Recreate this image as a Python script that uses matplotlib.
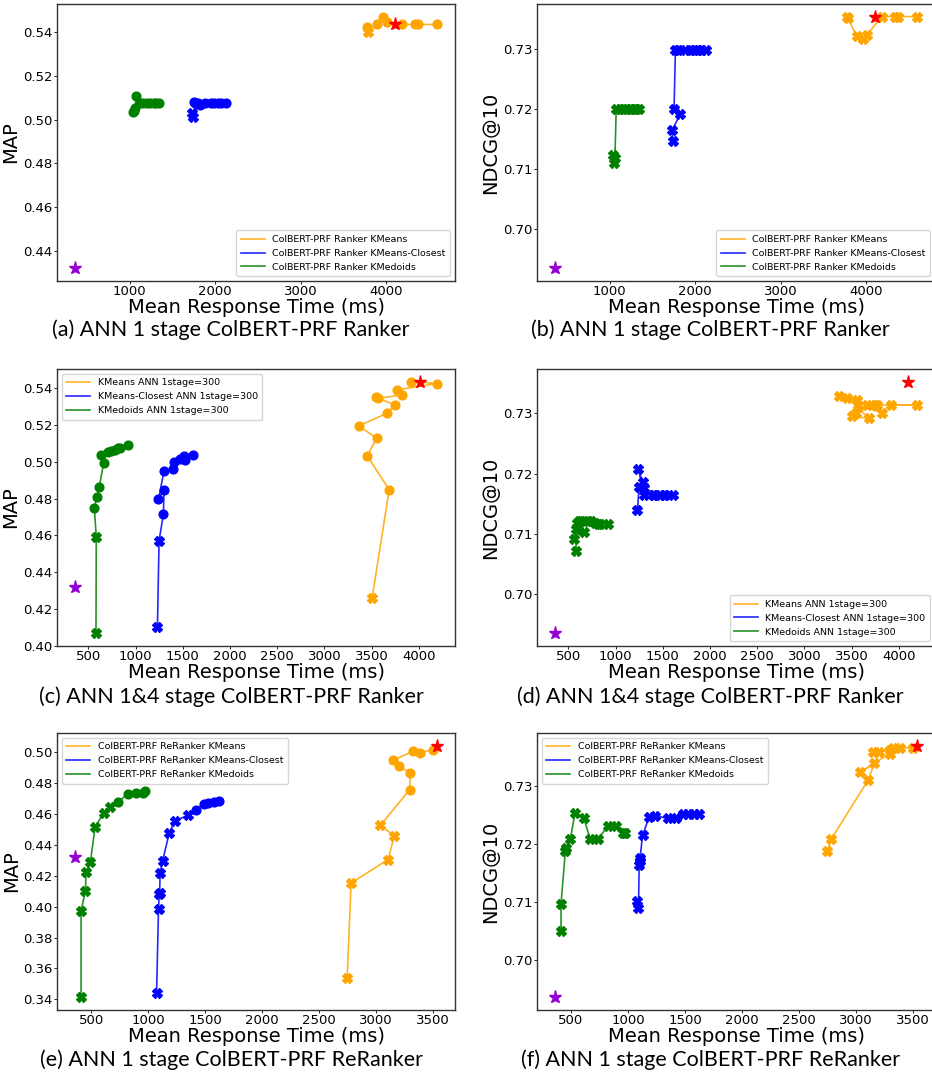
import matplotlib
matplotlib.use('Agg')
import matplotlib.pyplot as plt
from matplotlib.ticker import MultipleLocator

# ---------------- data ----------------
# baselines: purple = no PRF, red = exact ColBERT-PRF
base_rt = 360
base_map = 0.432
base_ndcg = 0.6935
prf_rt = [4100, 4100, 4018, 4100, 3536, 3536]
prf_val = [0.5435, 0.7353, 0.5436, 0.7353, 0.5043, 0.7370]

# row 1: ANN 1 stage, Ranker
rt1_kmeans = [3774, 3789, 3890, 3960, 4007, 4182, 4337, 4372, 4594]
map1_kmeans = [0.5423, 0.5399, 0.5435, 0.5471, 0.5444, 0.5435, 0.5435, 0.5435, 0.5435]
ndcg1_kmeans = [0.7353, 0.7350, 0.7320, 0.7316, 0.7322, 0.7353, 0.7353, 0.7353, 0.7353]
sigmap1_kmeans = [0, 1, 0, 0, 0, 0, 0, 0, 0]
signdcg1_kmeans = [1, 1, 1, 1, 1, 1, 1, 1, 1]

rt1_closest = [1742, 1730, 1826, 1752, 1768, 1800, 1880, 1950, 1990, 2030, 2070, 2130]
map1_closest = [0.5011, 0.5030, 0.5066, 0.5082, 0.5075, 0.5075, 0.5075, 0.5075, 0.5075, 0.5075, 0.5075, 0.5075]
ndcg1_closest = [0.7147, 0.7164, 0.7192, 0.7199, 0.7297, 0.7297, 0.7297, 0.7297, 0.7297, 0.7297, 0.7297, 0.7297]
sigmap1_closest = [1, 1, 0, 0, 0, 0, 0, 0, 0, 0, 0, 0]
signdcg1_closest = [1] * 12

rt1_medoids = [1040, 1050, 1060, 1075, 1120, 1160, 1200, 1240, 1280, 1310, 1340]
map1_medoids = [0.5035, 0.5040, 0.5055, 0.5110, 0.5078, 0.5078, 0.5078, 0.5078, 0.5078, 0.5078, 0.5078]
ndcg1_medoids = [0.7124, 0.7110, 0.7118, 0.7200, 0.7200, 0.7200, 0.7200, 0.7200, 0.7200, 0.7200, 0.7200]
sigmap1_medoids = [0] * 11
signdcg1_medoids = [1] * 11

# row 2: ANN 1&4 stage, Ranker
rt2_kmeans = [3506, 3686, 3454, 3553, 3366, 3665, 3746, 3545, 3570, 3823, 3770, 4192, 3922]
map2_kmeans = [0.4259, 0.4848, 0.5032, 0.5128, 0.5195, 0.5264, 0.5308, 0.5353, 0.5344, 0.5364, 0.5391, 0.5425, 0.5436]
ndcg2_kmeans = [0.7295, 0.7292, 0.7326, 0.7323, 0.7329, 0.7314, 0.7314, 0.7301, 0.7314, 0.7301, 0.7314, 0.7314, 0.7314]
sigmap2_kmeans = [1, 0, 0, 0, 0, 0, 0, 0, 0, 0, 0, 0, 0]
signdcg2_kmeans = [1] * 13

rt2_closest = [1232, 1249, 1295, 1302, 1243, 1302, 1401, 1408, 1471, 1513, 1520, 1612]
map2_closest = [0.4103, 0.4570, 0.4716, 0.4848, 0.4797, 0.4951, 0.4960, 0.4996, 0.5014, 0.5032, 0.5009, 0.5038]
ndcg2_closest = [0.7139, 0.7178, 0.7187, 0.7177, 0.7208, 0.7164, 0.7164, 0.7164, 0.7164, 0.7164, 0.7164, 0.7164]
sigmap2_closest = [1, 1, 0, 0, 0, 0, 0, 0, 0, 0, 0, 0]
signdcg2_closest = [1] * 12

rt2_medoids = [581, 584, 563, 592, 616, 662, 634, 705, 739, 780, 810, 840, 922]
map2_medoids = [0.4067, 0.4592, 0.4751, 0.4806, 0.4864, 0.4992, 0.5036, 0.5054, 0.5059, 0.5065, 0.5072, 0.5077, 0.5090]
ndcg2_medoids = [0.7071, 0.7108, 0.7091, 0.7119, 0.7122, 0.7104, 0.7121, 0.7122, 0.7122, 0.7118, 0.7117, 0.7117, 0.7117]
sigmap2_medoids = [1, 1, 0, 0, 0, 0, 0, 0, 0, 0, 0, 0, 0]
signdcg2_medoids = [1] * 13

# row 3: ANN 1 stage, ReRanker
rt3_kmeans = [2748, 2783, 3107, 3162, 3040, 3296, 3303, 3200, 3151, 3326, 3390, 3500]
map3_kmeans = [0.3540, 0.4153, 0.4305, 0.4457, 0.4526, 0.4757, 0.4867, 0.4910, 0.4947, 0.5005, 0.4996, 0.5016]
ndcg3_kmeans = [0.7187, 0.7208, 0.7310, 0.7339, 0.7324, 0.7356, 0.7362, 0.7359, 0.7359, 0.7366, 0.7366, 0.7366]
sigmap3_kmeans = [1, 1, 1, 1, 1, 0, 0, 0, 0, 0, 0, 0]
signdcg3_kmeans = [1] * 12

rt3_closest = [1075, 1092, 1098, 1102, 1106, 1128, 1186, 1236, 1347, 1419, 1487, 1523, 1580, 1624]
map3_closest = [0.3443, 0.3982, 0.4080, 0.4090, 0.4221, 0.4296, 0.4477, 0.4554, 0.4591, 0.4623, 0.4667, 0.4670, 0.4677, 0.4683]
ndcg3_closest = [0.7101, 0.7089, 0.7164, 0.7170, 0.7176, 0.7215, 0.7247, 0.7249, 0.7244, 0.7244, 0.7251, 0.7251, 0.7251, 0.7251]
sigmap3_closest = [1, 1, 1, 1, 1, 1, 1, 1, 1, 0, 0, 0, 0, 0]
signdcg3_closest = [1] * 14

rt3_medoids = [412, 412, 450, 456, 494, 535, 611, 669, 739, 821, 894, 953, 976]
map3_medoids = [0.3413, 0.3971, 0.4102, 0.4225, 0.4289, 0.4515, 0.4606, 0.4645, 0.4677, 0.4731, 0.4738, 0.4735, 0.4746]
ndcg3_medoids = [0.7049, 0.7096, 0.7188, 0.7193, 0.7209, 0.7254, 0.7245, 0.7208, 0.7208, 0.7231, 0.7231, 0.7219, 0.7219]
sigmap3_medoids = [1, 1, 1, 1, 1, 1, 1, 1, 0, 0, 0, 0, 0]
signdcg3_medoids = [1] * 13

labels_row1 = ['ColBERT-PRF Ranker KMeans', 'ColBERT-PRF Ranker KMeans-Closest', 'ColBERT-PRF Ranker KMedoids']
labels_row2 = ['KMeans ANN 1stage=300', 'KMeans-Closest ANN 1stage=300', 'KMedoids ANN 1stage=300']
labels_row3 = ['ColBERT-PRF ReRanker KMeans', 'ColBERT-PRF ReRanker KMeans-Closest', 'ColBERT-PRF ReRanker KMedoids']

captions = ['(a) ANN 1 stage ColBERT-PRF Ranker', '(b) ANN 1 stage ColBERT-PRF Ranker',
            '(c) ANN 1&4 stage ColBERT-PRF Ranker', '(d) ANN 1&4 stage ColBERT-PRF Ranker',
            '(e) ANN 1 stage ColBERT-PRF ReRanker', '(f) ANN 1 stage ColBERT-PRF ReRanker']

colors = ['orange', 'blue', 'green']

plt.rcParams['font.family'] = 'DejaVu Sans'

fig = plt.figure(figsize=(9.32, 10.75), dpi=100)

col_left = [0.0612, 0.5762]
row_bottom = [0.7386, 0.3991, 0.0605]
ax_w = 0.427
ax_h = 0.2577


def draw_panel(ax, series, labels, base_y, star_x, star_y, ylabel, legend_loc, xstep):
    for (rt, vals, sig), col, lab in zip(series, colors, labels):
        ax.plot(rt, vals, color=col, lw=1.2, alpha=0.85, label=lab, zorder=2)
        for x, y, s in zip(rt, vals, sig):
            ax.plot(x, y, marker='X' if s else 'o', color=col, ms=6.5 if s else 6.3,
                    mec=col, zorder=3)
    ax.plot(base_rt, base_y, marker='*', color='darkviolet', ms=9.5, zorder=4)
    ax.plot(star_x, star_y, marker='*', color='red', ms=9.5, zorder=4)
    ax.set_xlabel('Mean Response Time (ms)', fontsize=14, labelpad=0)
    ax.set_ylabel(ylabel, fontsize=14, labelpad=2)
    ax.xaxis.set_major_locator(MultipleLocator(xstep))
    if ylabel == 'MAP':
        ax.yaxis.set_major_locator(MultipleLocator(0.02))
    else:
        ax.yaxis.set_major_locator(MultipleLocator(0.01))
    ax.yaxis.set_major_formatter(plt.FormatStrFormatter('%.2f'))
    ax.tick_params(labelsize=9.5, length=2, width=0.6, pad=1)
    for sp in ax.spines.values():
        sp.set_linewidth(1.0)
        sp.set_color('#333333')
    ax.legend(loc=legend_loc, fontsize=6.8, handlelength=2.5, borderpad=0.5, labelspacing=0.5)


panels = [
    ([(rt1_kmeans, map1_kmeans, sigmap1_kmeans), (rt1_closest, map1_closest, sigmap1_closest),
      (rt1_medoids, map1_medoids, sigmap1_medoids)], labels_row1, base_map, 'MAP', 'lower right', 1000),
    ([(rt1_kmeans, ndcg1_kmeans, signdcg1_kmeans), (rt1_closest, ndcg1_closest, signdcg1_closest),
      (rt1_medoids, ndcg1_medoids, signdcg1_medoids)], labels_row1, base_ndcg, 'NDCG@10', 'lower right', 1000),
    ([(rt2_kmeans, map2_kmeans, sigmap2_kmeans), (rt2_closest, map2_closest, sigmap2_closest),
      (rt2_medoids, map2_medoids, sigmap2_medoids)], labels_row2, base_map, 'MAP', 'upper left', 500),
    ([(rt2_kmeans, ndcg2_kmeans, signdcg2_kmeans), (rt2_closest, ndcg2_closest, signdcg2_closest),
      (rt2_medoids, ndcg2_medoids, signdcg2_medoids)], labels_row2, base_ndcg, 'NDCG@10', 'lower right', 500),
    ([(rt3_kmeans, map3_kmeans, sigmap3_kmeans), (rt3_closest, map3_closest, sigmap3_closest),
      (rt3_medoids, map3_medoids, sigmap3_medoids)], labels_row3, base_map, 'MAP', 'upper left', 500),
    ([(rt3_kmeans, ndcg3_kmeans, signdcg3_kmeans), (rt3_closest, ndcg3_closest, signdcg3_closest),
      (rt3_medoids, ndcg3_medoids, signdcg3_medoids)], labels_row3, base_ndcg, 'NDCG@10', 'upper left', 500),
]

cap_x = [0.248, 0.762]
cap_y = [0.693, 0.352, 0.014]

for i, (series, labels, base_y, ylabel, loc, xstep) in enumerate(panels):
    r, c = divmod(i, 2)
    ax = fig.add_axes([col_left[c], row_bottom[r], ax_w, ax_h])
    draw_panel(ax, series, labels, base_y, prf_rt[i], prf_val[i], ylabel, loc, xstep)
    fig.text(cap_x[c], cap_y[r], captions[i], ha='center', va='center', fontsize=15.5, family='Lato')

fig.savefig('out.png', dpi=100)
